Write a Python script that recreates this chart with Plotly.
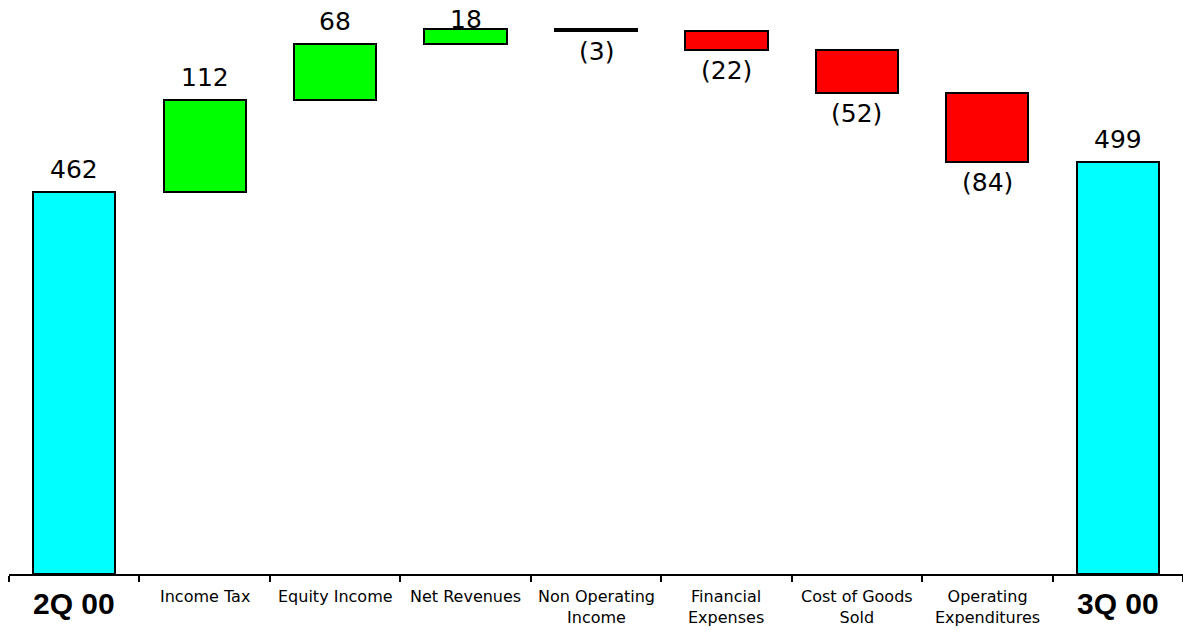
import plotly.graph_objects as go

categories = ["2Q 00", "Income Tax", "Equity Income", "Net Revenues", "Non Operating<br>Income",
              "Financial<br>Expenses", "Cost of Goods<br>Sold", "Operating<br>Expenditures", "3Q 00"]
values = [462, 112, 68, 18, -3, -22, -52, -84, 499]
kinds = ["total", "delta", "delta", "delta", "delta", "delta", "delta", "delta", "total"]
value_labels = ["462", "112", "68", "18", "(3)", "(22)", "(52)", "(84)", "499"]

Y_MAX = 695
PLOT_H = 574

# compute bases
bases, heights, colors = [], [], []
running = 0
for v, k in zip(values, kinds):
    if k == "total":
        bases.append(0)
        heights.append(v)
        colors.append("#00FFFF")
        running = v
    else:
        bases.append(running)
        heights.append(v)
        if abs(v) < 5:
            colors.append("black")
        else:
            colors.append("#00FF00" if v > 0 else "#FF0000")
        running += v

xs = list(range(len(categories)))

fig = go.Figure()
fig.add_trace(go.Bar(
    x=xs, y=heights, base=bases, width=0.63,
    marker=dict(color=colors, line=dict(color="black", width=2)),
    hoverinfo="skip",
))

annotations = []
scale = PLOT_H / Y_MAX
for i, (b, h, lab, k) in enumerate(zip(bases, heights, value_labels, kinds)):
    font = dict(family="DejaVu Sans", size=25, color="black")
    if h >= 0:
        top_px = PLOT_H - (b + h) * scale
        shift = 6
        if top_px - shift - 36 < 0:
            shift = max(top_px - 36, -8)
        annotations.append(dict(x=i, y=b + h, xref="x", yref="y", text=lab, showarrow=False,
                                yanchor="bottom", yshift=shift, font=font))
    else:
        annotations.append(dict(x=i, y=b + h, xref="x", yref="y", text=lab, showarrow=False,
                                yanchor="top", yshift=-4, font=font))

for i, c in enumerate(categories):
    if kinds[i] == "total":
        annotations.append(dict(x=i, y=0, xref="x", yref="paper", text="<b>" + c + "</b>",
                                showarrow=False, yanchor="top", yshift=-11,
                                font=dict(family="Liberation Sans", size=30, color="black")))
    else:
        annotations.append(dict(x=i, y=0, xref="x", yref="paper", text=c,
                                showarrow=False, yanchor="top", yshift=-11,
                                font=dict(family="DejaVu Sans", size=16, color="black")))

fig.update_layout(
    width=1183, height=630,
    margin=dict(l=9, r=0, t=0, b=630 - PLOT_H),
    plot_bgcolor="white", paper_bgcolor="white",
    showlegend=False,
    annotations=annotations,
    bargap=0,
)
fig.update_xaxes(range=[-0.5, 8.5], tickmode="array", tickvals=[i - 0.5 for i in range(10)],
                 ticks="outside", ticklen=6, tickwidth=2, tickcolor="black",
                 showticklabels=False, showline=True, linecolor="black", linewidth=2,
                 showgrid=False, zeroline=False)
fig.update_yaxes(range=[0, Y_MAX], visible=False, showgrid=False, zeroline=False)

fig.write_html("out.html")
